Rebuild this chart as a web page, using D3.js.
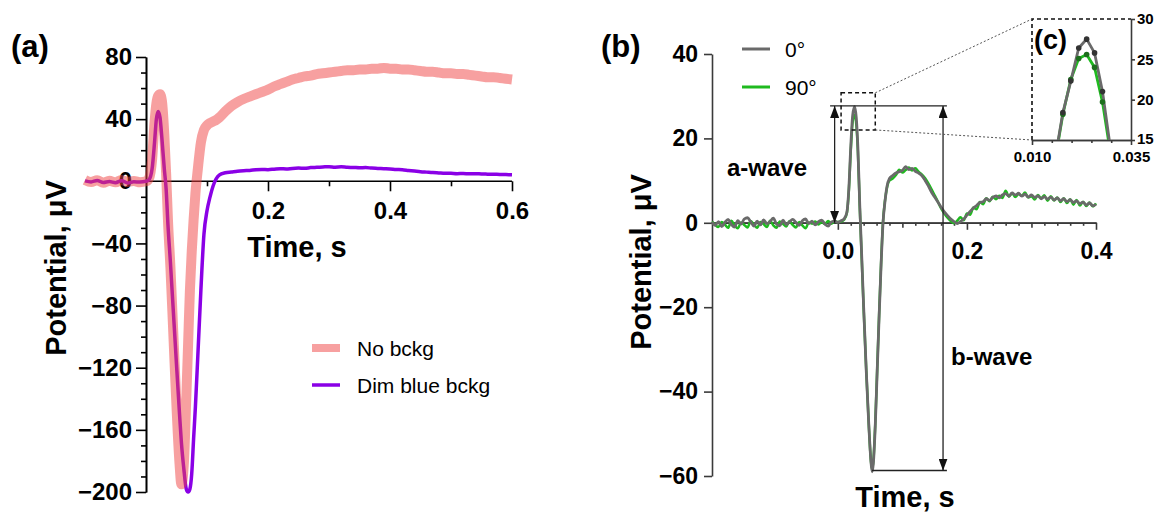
<!DOCTYPE html>
<html>
<head>
<meta charset="utf-8">
<script src="https://cdn.jsdelivr.net/npm/d3@7"></script>
<style>
body { margin: 0; background: #fff; }
text { font-family: "Liberation Sans", Arial, sans-serif; }
</style>
</head>
<body>
<script>
// ---------- panel (a) data ----------
var tA = [-0.10, -0.09, -0.08, -0.07, -0.06, -0.05, -0.04, -0.03, -0.02, -0.01, 0.00,
  0.005, 0.010, 0.014, 0.017, 0.020, 0.023, 0.026, 0.030, 0.033, 0.036,
  0.040, 0.045, 0.050, 0.055, 0.058, 0.062, 0.066, 0.069, 0.072, 0.075,
  0.078, 0.081, 0.085, 0.090, 0.095, 0.100, 0.105, 0.110, 0.115, 0.120,
  0.13, 0.14, 0.15, 0.16, 0.17, 0.18, 0.19, 0.20, 0.21, 0.22,
  0.23, 0.24, 0.25, 0.26, 0.27, 0.28, 0.29, 0.30, 0.31, 0.32,
  0.33, 0.34, 0.35, 0.36, 0.37, 0.38, 0.39, 0.40, 0.41, 0.42,
  0.43, 0.44, 0.45, 0.46, 0.47, 0.48, 0.49, 0.50, 0.51, 0.52,
  0.53, 0.54, 0.55, 0.56, 0.57, 0.58, 0.59, 0.60];

var noBckg = [0.8, -0.5, 0.6, -1.0, 0.3, -0.7, 0.9, -0.4, 0.2, -0.6, 0.0,
  2, 14, 38, 50, 55, 56, 52, 30, 5, -25,
  -55, -100, -145, -182, -195, -182, -140, -105, -70, -45,
  -25, -8, 8, 25, 33, 36, 37.5, 38.5, 39.5, 41,
  45, 48.5, 51, 53, 54.5, 56, 57.5, 59, 61, 62.5,
  64, 65.5, 66.5, 67.5, 68, 69, 69.5, 70, 70.5, 71,
  71.5, 71.5, 72, 72, 72.5, 72.5, 73, 72.5, 72.5, 72,
  72, 71.5, 71, 70.5, 70.5, 70, 69.5, 69.5, 69, 69,
  68.5, 68, 67.5, 67, 67, 66.5, 66, 65.5];

var dimBlue = [0.3, -0.4, 0.5, -0.8, -0.2, -0.9, 0.4, -1.1, -0.3, -0.5, 0.0,
  1, 8, 25, 40, 45, 41, 28, 8, -5, -28,
  -52, -85, -118, -150, -168, -185, -198, -200, -198, -188,
  -166, -145, -112, -70, -34, -19, -10, -3, 1.5, 4,
  5.5, 6, 6.5, 6.8, 7, 7.4, 7.6, 7.5, 7.8, 8.1,
  7.9, 8.3, 8.5, 8.4, 8.8, 9.0, 9.2, 9.4, 9.1, 9.3,
  9.0, 8.9, 8.7, 8.8, 8.5, 8.3, 8.1, 7.9, 7.6, 7.4,
  7.0, 6.6, 6.2, 5.9, 5.6, 5.4, 5.2, 5.1, 4.9, 5.0,
  4.8, 4.9, 4.7, 4.6, 4.5, 4.4, 4.3, 4.2];

var ticksAy = [80, 40, 0, -40, -80, -120, -160, -200];
var ticksAx = [0.2, 0.4, 0.6];
var minorAx = [0.1, 0.3, 0.5];
var legendA = ["No bckg", "Dim blue bckg"];

// ---------- panel (b) data ----------
var tB = [-0.195, -0.190, -0.185, -0.180, -0.175, -0.170, -0.165, -0.160, -0.155, -0.150,
  -0.145, -0.140, -0.135, -0.130, -0.125, -0.120, -0.115, -0.110, -0.105, -0.100,
  -0.095, -0.090, -0.085, -0.080, -0.075, -0.070, -0.065, -0.060, -0.055, -0.050,
  -0.045, -0.040, -0.035, -0.030, -0.025, -0.020, -0.015, -0.010, -0.005, 0.000,
  0.005, 0.010, 0.014, 0.017, 0.020, 0.023, 0.026, 0.029, 0.031, 0.034,
  0.037, 0.040, 0.044, 0.048, 0.051, 0.053, 0.055, 0.058, 0.061, 0.064,
  0.067, 0.070, 0.073, 0.076, 0.080,
  0.085, 0.090, 0.095, 0.100, 0.105, 0.110, 0.115, 0.120, 0.125, 0.130,
  0.135, 0.140, 0.145, 0.150, 0.155, 0.160, 0.165, 0.170, 0.175, 0.180,
  0.185, 0.190, 0.195, 0.200, 0.205, 0.210, 0.215, 0.220, 0.225, 0.230,
  0.235, 0.240, 0.245, 0.250, 0.255, 0.260, 0.265, 0.270, 0.275, 0.280,
  0.285, 0.290, 0.295, 0.300, 0.305, 0.310, 0.315, 0.320, 0.325, 0.330,
  0.335, 0.340, 0.345, 0.350, 0.355, 0.360, 0.365, 0.370, 0.375, 0.380,
  0.385, 0.390, 0.395, 0.400];

var deg0 = [0.2, -0.6, 0.3, -0.9, 0.1, 0.8, -0.4, -1.0, 0.5, -0.3,
  0.9, 1.2, 0.2, -0.8, 0.4, -0.5, 0.7, -0.2, 0.3, 1.1,
  -0.3, -0.7, 0.6, -0.4, 0.2, 0.8, 0.1, -0.6, 0.5, 0.9,
  -0.2, 0.4, -0.5, 0.3, 0.6, -0.3, -0.8, 0.2, 0.4, 0.1,
  0.5, 1, 2.5, 8, 18, 25.5, 27.5, 24, 18, 4,
  -8, -20, -35, -48, -56, -59, -57, -48, -35, -22,
  -10, 0, 5, 8.5, 10.5,
  11.2, 11.8, 12.1, 12.4, 13.3, 12.6, 12.9, 12.2, 11.8, 11.2,
  10.1, 8.8, 7.3, 6.1, 4.9, 3.7, 2.6, 1.7, 0.9, 0.3,
  -0.2, 0.3, 0.9, 1.8, 2.7, 3.5, 4.1, 4.8, 5.0, 5.7,
  5.3, 6.0, 6.4, 5.9, 6.6, 6.9, 6.3, 7.1, 6.6, 7.0,
  6.3, 6.8, 6.1, 6.6, 6.0, 6.4, 5.7, 6.2, 5.6, 6.1,
  5.4, 5.9, 5.2, 5.7, 5.0, 5.5, 4.8, 5.2, 4.5, 4.9,
  4.2, 4.7, 4.0, 4.4];

var deg90 = [0.3, -0.5, -1.0, 0.2, -0.4, -1.2, 0.5, -0.6, -1.3, 0.1,
  -0.5, -1.1, 0.4, -0.4, -1.2, 0.2, -0.3, -1.0, 0.5, -0.6,
  -1.2, 0.3, -0.2, -0.9, 0.4, -0.5, -1.1, 0.2, -0.6, -1.3,
  0.1, -0.2, 0.3, -0.4, 0.2, -0.3, 0.4, -0.2, 0.3, 0.2,
  0.3, 0.8, 2.3, 7.5, 17, 24, 25.6, 22.5, 17, 3.5,
  -8.5, -20.5, -35, -48, -56, -58.5, -56.5, -47.5, -34.5, -21.5,
  -9.5, 0.3, 5.2, 8.2, 10,
  10.5, 11.3, 12.6, 11.9, 12.5, 13.1, 12.4, 12.9, 12.1, 11.5,
  10.6, 9.4, 8.0, 6.5, 5.0, 3.4, 2.2, 1.2, 0.4, -0.1,
  0.5, 1.3, 0.6, 2.2, 1.9, 3.6, 3.2, 4.9, 4.4, 5.8,
  5.1, 6.2, 5.6, 6.4, 5.9, 7.6, 6.2, 7.0, 6.1, 6.8,
  6.4, 7.2, 6.0, 6.3, 5.5, 6.6, 5.8, 6.5, 5.2, 6.3,
  5.3, 6.0, 4.9, 5.8, 4.7, 5.6, 4.3, 5.4, 4.1, 5.0,
  4.0, 4.8, 3.9, 4.6];

var ticksBy = [40, 20, 0, -20, -40, -60];
var ticksBx = [0.0, 0.2, 0.4];
var midBx = [0.1, 0.3];
var minorBx = [0.02, 0.04, 0.06, 0.08, 0.12, 0.14, 0.16, 0.18, 0.22, 0.24, 0.26, 0.28, 0.32, 0.34, 0.36, 0.38];
var legendB = ["0\u00b0", "90\u00b0"];

// annotation levels (peak / trough) and zoom box
var peakLevel = 27.7, troughLevel = -58.7;
var zoomBox = { t0: 0.005, t1: 0.058, v0: 22, v1: 30.8 };

// ---------- inset (c) data ----------
var tC = [0.0158, 0.0178, 0.0198, 0.0218, 0.0238, 0.0258, 0.0278, 0.0298];
var deg0C = [12.6, 18.4, 22.3, 26.4, 27.5, 25.8, 21.0, 14.0];
var deg90C = [12.4, 18.2, 22.5, 25.1, 25.6, 24.0, 19.7, 13.4];
var ticksCy = [15, 20, 25, 30];
var ticksCx = [0.010, 0.035];
var minorCx = [0.015, 0.020, 0.025, 0.030];

var pink = "rgb(239,65,65)", violet = "#8a00e6", gray = "#6a6a6a", green = "#1fba1f";

var svg = d3.select("body").append("svg")
  .attr("width", 1159)
  .attr("height", 513);

function styleAxis(g, col, fs) {
  g.selectAll(".domain").attr("stroke", col).attr("stroke-width", 1.6);
  g.selectAll(".tick line").attr("stroke", col).attr("stroke-width", 1.6);
  g.selectAll(".tick text")
    .attr("fill", "#000")
    .style("font-size", fs + "px")
    .style("font-weight", "bold")
    .style("font-family", "'Liberation Sans', Arial, sans-serif");
}

// ================= panel (a) =================
var xA = d3.scaleLinear().domain([-0.1, 0.6]).range([85, 512]);
var yA = d3.scaleLinear().domain([-200, 80]).range([492, 57]);

var minorAy = d3.range(-200, 81, 10).filter(function(v){ return ticksAy.indexOf(v) < 0; });

var gA = svg.append("g");

gA.append("g").attr("transform", "translate(" + xA(0) + ",0)")
  .call(d3.axisLeft(yA).tickValues(minorAy).tickSize(5).tickFormat("").tickSizeOuter(0))
  .call(styleAxis, "#000", 24);
gA.append("g").attr("transform", "translate(" + xA(0) + ",0)")
  .call(d3.axisLeft(yA).tickValues(ticksAy).tickSize(10).tickPadding(4).tickSizeOuter(0).tickFormat(d3.format("d")))
  .call(styleAxis, "#000", 24);

var axAx = gA.append("g").attr("transform", "translate(0," + yA(0) + ")");
axAx.append("g")
  .call(d3.axisBottom(xA).tickValues(minorAx).tickSize(5).tickFormat("").tickSizeOuter(0))
  .call(styleAxis, "#000", 24);
axAx.append("g")
  .call(d3.axisBottom(xA).tickValues(ticksAx).tickSize(10).tickPadding(11).tickSizeOuter(0).tickFormat(d3.format(".1f")))
  .call(styleAxis, "#000", 24);
axAx.selectAll(".domain").remove();
axAx.append("line")
  .attr("x1", xA(0)).attr("x2", xA(0.6))
  .attr("stroke", "#000").attr("stroke-width", 1.6);

var lineA = d3.line()
  .x(function(d){ return xA(d[0]); })
  .y(function(d){ return yA(d[1]); })
  .curve(d3.curveMonotoneX);

gA.append("path")
  .datum(d3.zip(tA, dimBlue))
  .attr("d", lineA)
  .attr("fill", "none")
  .attr("stroke", violet)
  .attr("stroke-width", 3.5)
  .attr("stroke-linejoin", "round");

gA.append("path")
  .datum(d3.zip(tA, noBckg))
  .attr("d", lineA)
  .attr("fill", "none")
  .attr("stroke", pink)
  .attr("stroke-opacity", 0.5)
  .attr("stroke-width", 10)
  .attr("stroke-linejoin", "round");

// legend (a)
var legA = gA.append("g");
legA.append("line").attr("x1", 312).attr("x2", 340).attr("y1", 348).attr("y2", 348)
  .attr("stroke", pink).attr("stroke-opacity", 0.5).attr("stroke-width", 8);
legA.append("line").attr("x1", 312).attr("x2", 340).attr("y1", 385).attr("y2", 385)
  .attr("stroke", violet).attr("stroke-width", 3.5);
legA.selectAll("text.leg").data(legendA).enter().append("text")
  .attr("class", "leg")
  .attr("x", 357)
  .attr("y", function(d, i){ return 348 + i * 37; })
  .attr("dy", "0.36em")
  .style("font-size", "21px")
  .text(function(d){ return d; });

gA.append("text").attr("x", 11).attr("y", 57)
  .style("font-size", "31px").style("font-weight", "bold").text("(a)");

gA.append("text")
  .attr("transform", "translate(66,268) rotate(-90)")
  .attr("text-anchor", "middle")
  .style("font-size", "29px").style("font-weight", "bold")
  .text("Potential, \u03bcV");

gA.append("text").attr("x", 297).attr("y", 257)
  .attr("text-anchor", "middle")
  .style("font-size", "29px").style("font-weight", "bold")
  .text("Time, s");

// ================= panel (b) =================
var xB = d3.scaleLinear().domain([-0.195, 0.4]).range([712, 1096]);
var yB = d3.scaleLinear().domain([-60, 40]).range([476, 54]);
var axCol = "#3a3a3a";

var gB = svg.append("g");

gB.append("g").attr("transform", "translate(" + xB(-0.195) + ",0)")
  .call(d3.axisLeft(yB).tickValues(ticksBy).tickSize(8).tickPadding(6).tickSizeOuter(0).tickFormat(d3.format("d")))
  .call(styleAxis, axCol, 23);

var axBx = gB.append("g").attr("transform", "translate(0," + yB(0) + ")");
axBx.append("g")
  .call(d3.axisBottom(xB).tickValues(minorBx).tickSize(3).tickFormat("").tickSizeOuter(0))
  .call(styleAxis, axCol, 23);
axBx.append("g")
  .call(d3.axisBottom(xB).tickValues(midBx).tickSize(5).tickFormat("").tickSizeOuter(0))
  .call(styleAxis, axCol, 23);
axBx.append("g")
  .call(d3.axisBottom(xB).tickValues(ticksBx).tickSize(7).tickPadding(13).tickSizeOuter(0).tickFormat(d3.format(".1f")))
  .call(styleAxis, axCol, 23);

var lineB = d3.line()
  .x(function(d){ return xB(d[0]); })
  .y(function(d){ return yB(d[1]); })
  .curve(d3.curveMonotoneX);

gB.append("path")
  .datum(d3.zip(tB, deg90))
  .attr("d", lineB)
  .attr("fill", "none")
  .attr("stroke", green)
  .attr("stroke-width", 2.5)
  .attr("stroke-linejoin", "round");

gB.append("path")
  .datum(d3.zip(tB, deg0))
  .attr("d", lineB)
  .attr("fill", "none")
  .attr("stroke", gray)
  .attr("stroke-width", 2.8)
  .attr("stroke-linejoin", "round");

// arrow markers
var defs = svg.append("defs");
defs.append("marker")
  .attr("id", "arr")
  .attr("viewBox", "0 0 12 9")
  .attr("refX", 12).attr("refY", 4.5)
  .attr("markerWidth", 12).attr("markerHeight", 9)
  .attr("markerUnits", "userSpaceOnUse")
  .attr("orient", "auto-start-reverse")
  .append("path").attr("d", "M0,0L12,4.5L0,9z").attr("fill", "#111");

var ann = gB.append("g").attr("stroke", "#222").attr("stroke-width", 1.3).attr("fill", "none");
ann.append("line")
  .attr("x1", xB(-0.012)).attr("x2", xB(0.169))
  .attr("y1", yB(peakLevel)).attr("y2", yB(peakLevel));
ann.append("line")
  .attr("x1", xB(0.053)).attr("x2", xB(0.169))
  .attr("y1", yB(troughLevel)).attr("y2", yB(troughLevel));
ann.append("line")
  .attr("x1", xB(-0.005)).attr("x2", xB(-0.005))
  .attr("y1", yB(peakLevel)).attr("y2", yB(0))
  .attr("marker-start", "url(#arr)").attr("marker-end", "url(#arr)");
ann.append("line")
  .attr("x1", xB(0.163)).attr("x2", xB(0.163))
  .attr("y1", yB(peakLevel)).attr("y2", yB(troughLevel))
  .attr("marker-start", "url(#arr)").attr("marker-end", "url(#arr)");

// zoom box and connectors
gB.append("rect")
  .attr("x", xB(zoomBox.t0)).attr("y", yB(zoomBox.v1))
  .attr("width", xB(zoomBox.t1) - xB(zoomBox.t0))
  .attr("height", yB(zoomBox.v0) - yB(zoomBox.v1))
  .attr("fill", "none").attr("stroke", "#111").attr("stroke-width", 1.5)
  .attr("stroke-dasharray", "4,3");

gB.append("text").attr("x", 727).attr("y", 167).attr("dy", "0.36em")
  .style("font-size", "24px").style("font-weight", "bold").text("a-wave");
gB.append("text").attr("x", 951).attr("y", 356).attr("dy", "0.36em")
  .style("font-size", "24px").style("font-weight", "bold").text("b-wave");

// legend (b)
var legCols = [gray, green];
var legB = gB.append("g");
legB.selectAll("line").data(legendB).enter().append("line")
  .attr("x1", 742).attr("x2", 770)
  .attr("y1", function(d, i){ return 49 + i * 38; })
  .attr("y2", function(d, i){ return 49 + i * 38; })
  .attr("stroke", function(d, i){ return legCols[i]; })
  .attr("stroke-width", 3);
legB.selectAll("text").data(legendB).enter().append("text")
  .attr("x", 785)
  .attr("y", function(d, i){ return 49 + i * 38; })
  .attr("dy", "0.36em")
  .style("font-size", "21px")
  .text(function(d){ return d; });

gB.append("text").attr("x", 601).attr("y", 57)
  .style("font-size", "31px").style("font-weight", "bold").text("(b)");

gB.append("text")
  .attr("transform", "translate(651,262) rotate(-90)")
  .attr("text-anchor", "middle")
  .style("font-size", "29px").style("font-weight", "bold")
  .text("Potential, \u03bcV");

gB.append("text").attr("x", 905).attr("y", 507)
  .attr("text-anchor", "middle")
  .style("font-size", "29px").style("font-weight", "bold")
  .text("Time, s");

// ================= inset (c) =================
var xC = d3.scaleLinear().domain([0.010, 0.035]).range([1032, 1131]);
var yC = d3.scaleLinear().domain([15, 30]).range([140, 19]);

var gC = svg.append("g");

gC.append("g").attr("transform", "translate(" + xC(0.035) + ",0)")
  .call(d3.axisRight(yC).tickValues(ticksCy).tickSize(4).tickPadding(2).tickSizeOuter(0).tickFormat(d3.format("d")))
  .call(styleAxis, axCol, 15);
gC.select(".tick:first-of-type text").attr("dy", "0.2em");
gC.append("g").attr("transform", "translate(0," + yC(15) + ")")
  .call(d3.axisBottom(xC).tickValues(minorCx).tickSize(3).tickFormat("").tickSizeOuter(0))
  .call(styleAxis, axCol, 15);
gC.append("g").attr("transform", "translate(0," + yC(15) + ")")
  .call(d3.axisBottom(xC).tickValues(ticksCx).tickSize(5).tickPadding(6).tickSizeOuter(0).tickFormat(d3.format(".3f")))
  .call(styleAxis, axCol, 15);

// dashed frame (left and top)
gC.append("path")
  .attr("d", "M" + xC(0.010) + "," + yC(15) + "V" + yC(30) + "H" + xC(0.035))
  .attr("fill", "none").attr("stroke", "#111").attr("stroke-width", 1.6)
  .attr("stroke-dasharray", "4,3");

// dotted connectors from zoom box
var conn = gC.append("g").attr("stroke", "#555").attr("stroke-width", 1).attr("stroke-dasharray", "2,2");
conn.append("line")
  .attr("x1", xB(zoomBox.t1)).attr("y1", yB(zoomBox.v1))
  .attr("x2", xC(0.010)).attr("y2", yC(30));
conn.append("line")
  .attr("x1", xB(zoomBox.t1)).attr("y1", yB(zoomBox.v0))
  .attr("x2", xC(0.010)).attr("y2", yC(15));

defs.append("clipPath").attr("id", "clipC")
  .append("rect")
  .attr("x", xC(0.010)).attr("y", yC(30))
  .attr("width", xC(0.035) - xC(0.010))
  .attr("height", yC(15) - yC(30));

var plotC = gC.append("g").attr("clip-path", "url(#clipC)");
var lineC = d3.line()
  .x(function(d){ return xC(d[0]); })
  .y(function(d){ return yC(d[1]); });

plotC.append("path").datum(d3.zip(tC, deg90C)).attr("d", lineC)
  .attr("fill", "none").attr("stroke", green).attr("stroke-width", 2.8);
plotC.append("path").datum(d3.zip(tC, deg0C)).attr("d", lineC)
  .attr("fill", "none").attr("stroke", gray).attr("stroke-width", 2.8);

plotC.selectAll("circle.g90").data(d3.zip(tC, deg90C)).enter().append("circle")
  .attr("class", "g90")
  .attr("cx", function(d){ return xC(d[0]); })
  .attr("cy", function(d){ return yC(d[1]); })
  .attr("r", 2.8).attr("fill", "#1d6e1d");
plotC.selectAll("circle.g0").data(d3.zip(tC, deg0C)).enter().append("circle")
  .attr("class", "g0")
  .attr("cx", function(d){ return xC(d[0]); })
  .attr("cy", function(d){ return yC(d[1]); })
  .attr("r", 2.8).attr("fill", "#333");

gC.append("text").attr("x", 1034).attr("y", 49)
  .style("font-size", "27px").style("font-weight", "bold").text("(c)");
</script>
</body>
</html>
